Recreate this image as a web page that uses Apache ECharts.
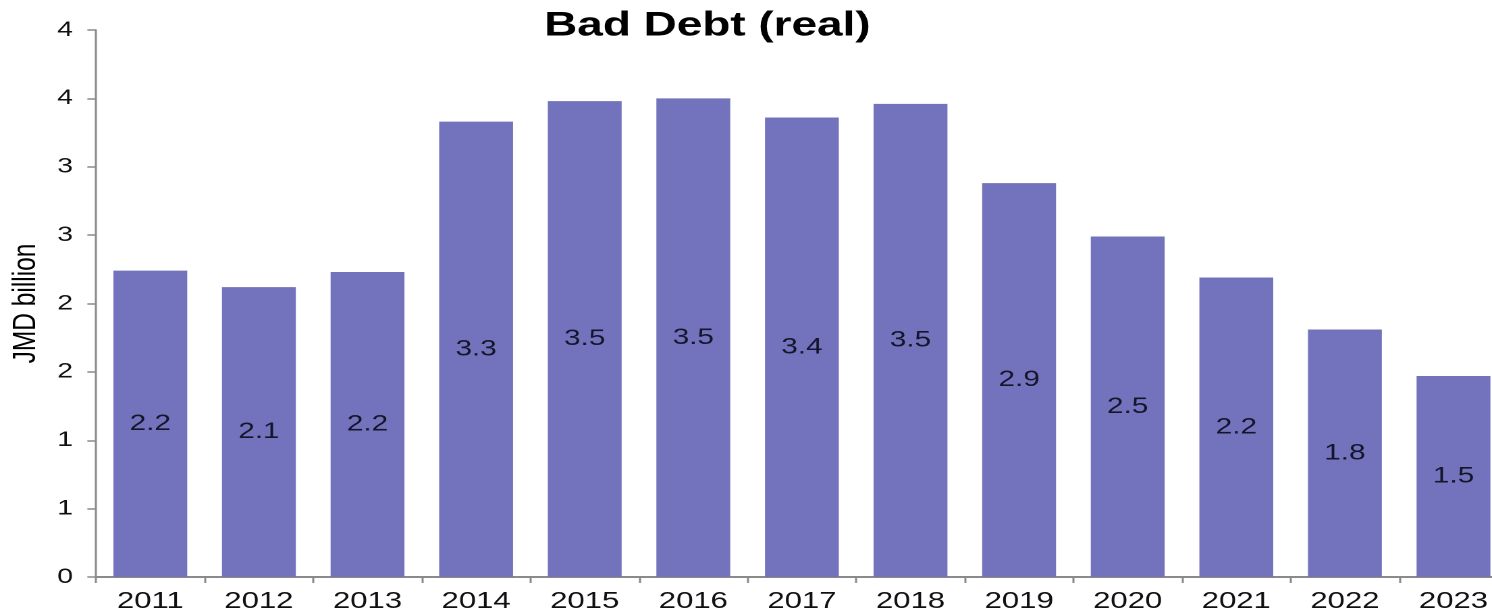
<!DOCTYPE html>
<html>
<head>
<meta charset="utf-8">
<script src="https://cdn.jsdelivr.net/npm/echarts@6/dist/echarts.min.js"></script>
<style>
  html, body { margin: 0; padding: 0; background: #fff; overflow: hidden; }
  #wrap { width: 1492px; height: 616px; overflow: hidden; }
  #chart { width: 1130px; height: 616px; transform: scaleX(1.3502); transform-origin: 0 0; }
</style>
</head>
<body>
<div id="wrap"><div id="chart"></div></div>
<script>
const categories = ['2011','2012','2013','2014','2015','2016','2017','2018','2019','2020','2021','2022','2023'];
const badDebt = [2.24, 2.12, 2.23, 3.33, 3.48, 3.50, 3.36, 3.46, 2.88, 2.49, 2.19, 1.81, 1.47];
const yTickLabels = ['0','1','1','2','2','3','3','4','4'];

const S = 1.3502;
const chart = echarts.init(document.getElementById('chart'), null, { renderer: 'canvas', devicePixelRatio: 2 });
const font = 'Liberation Sans, Arial, Helvetica, sans-serif';

chart.setOption({
  animation: false,
  backgroundColor: '#ffffff',
  title: {
    text: 'Bad Debt (real)',
    left: 398,
    top: 4,
    textStyle: { fontFamily: font, fontWeight: 'bold', fontSize: 34, color: '#000' }
  },
  grid: { left: 96 / S, top: 30, width: 1411.8 / S, bottom: 39, containLabel: false, outerBoundsMode: 'none' },
  xAxis: {
    type: 'category',
    data: categories,
    boundaryGap: true,
    axisLine: { show: true, lineStyle: { color: '#8a8a8a', width: 2 } },
    axisTick: { show: true, length: 6, lineStyle: { color: '#8a8a8a', width: 1.5 } },
    axisLabel: { fontFamily: font, fontSize: 23, color: '#111', margin: 13 },
    splitLine: { show: false }
  },
  yAxis: {
    type: 'value',
    min: 0,
    max: 4,
    interval: 0.5,
    name: 'JMD billion',
    nameLocation: 'middle',
    nameGap: 34,
    nameRotate: 90,
    nameTextStyle: { fontFamily: font, fontSize: 24.5, color: '#000' },
    axisLine: { show: true, lineStyle: { color: '#8a8a8a', width: 1.5 } },
    axisTick: { show: true, length: 6.4, lineStyle: { color: '#8a8a8a', width: 1.5 } },
    axisLabel: {
      fontFamily: font, fontSize: 21, color: '#111', margin: 17,
      formatter: function (v, i) { return yTickLabels[i]; }
    },
    splitLine: { show: false }
  },
  series: [{
    type: 'bar',
    data: badDebt,
    barWidth: '68%',
    itemStyle: { color: '#7373BD' },
    label: {
      show: true,
      position: 'inside',
      fontFamily: font,
      fontSize: 22,
      color: '#15152a',
      formatter: function (p) { return p.value.toFixed(1); }
    }
  }]
});
</script>
</body>
</html>
